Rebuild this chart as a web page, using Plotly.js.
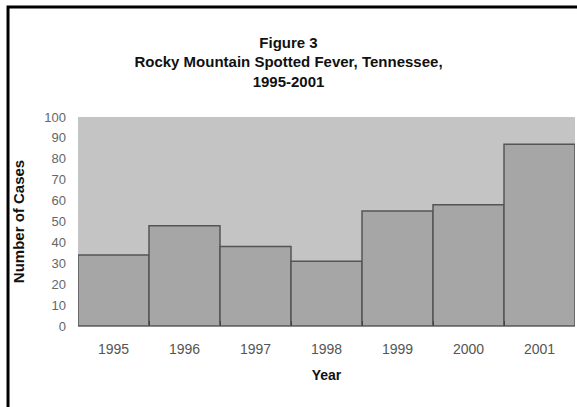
<!DOCTYPE html>
<html>
<head>
<meta charset="utf-8">
<script src="https://cdn.plot.ly/plotly-3.0.1.min.js"></script>
<style>html,body{margin:0;padding:0;background:#fff;}#chart{width:577px;height:407px;}</style>
</head>
<body>
<div id="chart"></div>
<script>
const years = ['1995', '1996', '1997', '1998', '1999', '2000', '2001'];
const cases = [34, 48, 38, 31, 55, 58, 87];
const yTicks = [0, 10, 20, 30, 40, 50, 60, 70, 80, 90, 100];

const trace = {
  type: 'bar',
  x: years,
  y: cases,
  marker: {color: '#a6a6a6', line: {color: '#555555', width: 1.5}},
  hoverinfo: 'x+y'
};

const layout = {
  width: 577,
  height: 407,
  margin: {l: 78, r: 2, t: 117, b: 81},
  paper_bgcolor: '#ffffff',
  plot_bgcolor: '#c4c4c4',
  bargap: 0,
  showlegend: false,
  font: {family: 'Liberation Sans, Arial, sans-serif', color: '#333'},
  title: {
    text: '<b>Figure 3<br>Rocky Mountain Spotted Fever, Tennessee,<br>1995-2001</b>',
    font: {size: 15, color: '#111'},
    xref: 'container', x: 0.5, xanchor: 'center',
    yref: 'container', y: 0.883, yanchor: 'top'
  },
  xaxis: {
    type: 'category',
    title: {text: '<b>Year</b>', font: {size: 14, color: '#111'}, standoff: 14},
    tickfont: {size: 14, color: '#555'},
    showgrid: false,
    zeroline: false,
    ticks: 'inside', tickson: 'boundaries', ticklen: 5, tickcolor: '#444',
    showline: true, linecolor: '#888', linewidth: 1,
    ticklabelstandoff: 10
  },
  yaxis: {
    range: [0, 100],
    tickvals: yTicks,
    title: {text: '<b>Number of Cases</b>', font: {size: 15, color: '#111'}, standoff: 16},
    tickfont: {size: 13, color: '#666'},
    showgrid: false,
    zeroline: false,
    ticks: '',
    ticklabelstandoff: 11
  },
  shapes: [{
    type: 'rect', xref: 'paper', yref: 'paper',
    x0: -0.1408, x1: 1.3, y0: -0.7, y1: 1.526,
    line: {color: '#000', width: 3}, fillcolor: 'rgba(0,0,0,0)', layer: 'above'
  }]
};

Plotly.newPlot('chart', [trace], layout, {displayModeBar: false, staticPlot: true});
</script>
</body>
</html>
